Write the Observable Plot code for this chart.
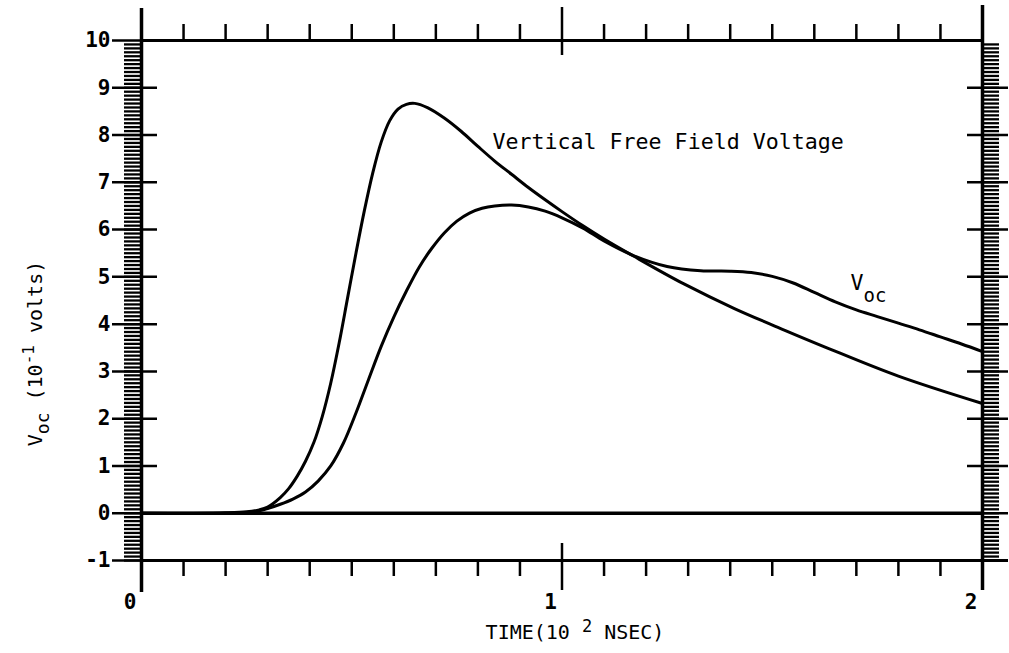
<!DOCTYPE html>
<html><head><meta charset="utf-8">
<script src="https://cdn.jsdelivr.net/npm/d3@7"></script>
<script src="https://cdn.jsdelivr.net/npm/@observablehq/plot@0.6"></script>
<style>html,body{margin:0;padding:0;background:#fff;} svg{display:block}</style>
</head><body><div id="chart"></div>
<script>
// Vertical Free Field Voltage (time in 10^2 ns, voltage in 10^-1 V)
const vffTime = [0, 0.1, 0.2, 0.25, 0.28, 0.30, 0.33, 0.35, 0.37, 0.39, 0.41, 0.43, 0.45, 0.47, 0.49, 0.51, 0.53, 0.55, 0.57, 0.59, 0.61, 0.63, 0.65, 0.68, 0.72, 0.76, 0.80, 0.84, 0.88, 0.92, 0.96, 1.00, 1.05, 1.10, 1.17, 1.29, 1.41, 1.53, 1.63, 1.80, 2.00];
const vffVolt = [0, 0, 0.01, 0.03, 0.07, 0.13, 0.33, 0.52, 0.78, 1.1, 1.5, 2.05, 2.75, 3.6, 4.55, 5.5, 6.4, 7.2, 7.85, 8.3, 8.55, 8.65, 8.67, 8.58, 8.36, 8.08, 7.76, 7.45, 7.17, 6.89, 6.63, 6.38, 6.08, 5.8, 5.44, 4.85, 4.33, 3.87, 3.5, 2.9, 2.32];
// V_oc
const vocTime = [0, 0.2, 0.27, 0.30, 0.33, 0.36, 0.39, 0.42, 0.45, 0.48, 0.51, 0.54, 0.57, 0.60, 0.63, 0.66, 0.69, 0.72, 0.75, 0.78, 0.81, 0.84, 0.88, 0.92, 0.96, 1.00, 1.05, 1.10, 1.17, 1.25, 1.33, 1.40, 1.45, 1.50, 1.55, 1.60, 1.65, 1.70, 1.75, 1.80, 1.85, 1.90, 1.95, 2.00];
const vocVolt = [0, 0, 0.03, 0.1, 0.19, 0.3, 0.45, 0.68, 1.0, 1.48, 2.12, 2.83, 3.53, 4.15, 4.7, 5.2, 5.6, 5.93, 6.18, 6.35, 6.45, 6.5, 6.52, 6.48, 6.39, 6.25, 6.03, 5.76, 5.45, 5.22, 5.13, 5.12, 5.09, 5.01, 4.87, 4.67, 4.47, 4.3, 4.16, 4.02, 3.88, 3.73, 3.58, 3.42];

const xMajor = [0, 1, 2];
const xTickLabels = ["0", "1", "2"];
const xMinor = [0.1, 0.2, 0.3, 0.4, 0.5, 0.6, 0.7, 0.8, 0.9, 1.1, 1.2, 1.3, 1.4, 1.5, 1.6, 1.7, 1.8, 1.9];
const yTicks = [-1, 0, 1, 2, 3, 4, 5, 6, 7, 8, 9, 10];
const yTickLabels = ["-1", "0", "1", "2", "3", "4", "5", "6", "7", "8", "9", "10"];
const yHatch = d3.range(0, 133).map(i => -1 + i / 12).filter(v => v < 9.99);

const xTitle = "TIME(10 2 NSEC)";
const yTitle = "Voc (10-1 volts)";
const annotations = [
  {t: 0.835, v: 7.85, label: "Vertical Free Field Voltage"},
  {t: 1.686, v: 4.86, label: "Voc"}
];

const vff = vffTime.map((t, i) => ({t, v: vffVolt[i]}));
const voc = vocTime.map((t, i) => ({t, v: vocVolt[i]}));

const FONT = "DejaVu Sans Mono";
const rightTicks = yTicks.filter(d => d < 10);

const svg = Plot.plot({
  width: 1009, height: 653,
  marginLeft: 141, marginRight: 27, marginTop: 40, marginBottom: 93,
  x: {domain: [0, 2], axis: null},
  y: {domain: [-1, 10], axis: null},
  style: {fontFamily: FONT, background: "#fff", color: "#000"},
  marks: [
    // hatching on both vertical axes
    Plot.ruleY(yHatch, {y: d => d, x1: 0, x2: 0, insetLeft: -17, stroke: "#000", strokeWidth: 2.3}),
    Plot.ruleY(yHatch, {y: d => d, x1: 2, x2: 2, insetRight: -17, stroke: "#000", strokeWidth: 2.3}),
    // y ticks
    Plot.ruleY(yTicks, {y: d => d, x1: 0, x2: 0, insetLeft: -29, insetRight: -16, stroke: "#000", strokeWidth: 2.5}),
    Plot.ruleY(rightTicks, {y: d => d, x1: 2, x2: 2, insetLeft: -15, insetRight: -26, stroke: "#000", strokeWidth: 2.5}),
    // frame top / bottom, zero line
    Plot.ruleY([10], {y: d => d, x1: 0, x2: 2, stroke: "#000", strokeWidth: 3}),
    Plot.ruleY([-1], {y: d => d, x1: 0, x2: 2, insetRight: -26, stroke: "#000", strokeWidth: 3}),
    Plot.ruleY([0], {y: d => d, x1: 0, x2: 2, stroke: "#000", strokeWidth: 3.5}),
    // x minor ticks
    Plot.ruleX(xMinor, {x: d => d, y1: -1, y2: -1, insetBottom: -16, stroke: "#000", strokeWidth: 2.5}),
    Plot.ruleX(xMinor, {x: d => d, y1: 10, y2: 10, insetTop: -16, stroke: "#000", strokeWidth: 2.5}),
    // vertical axes and major ticks
    Plot.ruleX([0], {x: d => d, insetTop: -32, insetBottom: -32, stroke: "#000", strokeWidth: 3.5}),
    Plot.ruleX([2], {x: d => d, insetTop: -35, insetBottom: -30, stroke: "#000", strokeWidth: 3.5}),
    Plot.ruleX([1], {x: d => d, y1: 10, y2: 10, insetTop: -33, insetBottom: -15, stroke: "#000", strokeWidth: 2.5}),
    Plot.ruleX([1], {x: d => d, y1: -1, y2: -1, insetTop: -17, insetBottom: -30, stroke: "#000", strokeWidth: 2.5}),
    // curves
    Plot.line(vff, {x: "t", y: "v", curve: "catmull-rom", stroke: "#000", strokeWidth: 3}),
    Plot.line(voc, {x: "t", y: "v", curve: "catmull-rom", stroke: "#000", strokeWidth: 3}),
    // tick labels
    Plot.text(yTicks, {x: 0, y: d => d, text: (d, i) => yTickLabels[i], textAnchor: "end", dx: -31, fontSize: 21, fontWeight: "bold", fontFamily: FONT, fill: "#000"}),
    Plot.text(xMajor, {x: d => d, y: -1, text: (d, i) => xTickLabels[i], textAnchor: "end", dx: -5, dy: 42, fontSize: 21, fontWeight: "bold", fontFamily: FONT, fill: "#000"}),
    // axis titles
    Plot.text([xTitle], {frameAnchor: "bottom", text: d => d, textAnchor: "middle", lineAnchor: "middle", dx: 13, dy: 72, fontSize: 20, fontFamily: FONT, fill: "#000"}),
    Plot.text([yTitle], {frameAnchor: "left", text: d => d, textAnchor: "middle", lineAnchor: "middle", rotate: -90, dx: -106, dy: 53, fontSize: 20, fontFamily: FONT, fill: "#000"}),
    // annotations
    Plot.text(annotations, {x: "t", y: "v", text: "label", textAnchor: "start", fontSize: 21.6, fontFamily: FONT, fill: "#000"})
  ]
});

// rich text: subscripts and superscripts
d3.select(svg).selectAll("text").each(function() {
  const el = d3.select(this);
  const t = this.textContent;
  if (t === xTitle) {
    el.text(null);
    el.append("tspan").text("TIME(10 ");
    el.append("tspan").attr("dy", -7).attr("font-size", 17).text("2");
    el.append("tspan").attr("dy", 7).text(" NSEC)");
  } else if (t === yTitle) {
    el.text(null);
    el.append("tspan").text("V");
    el.append("tspan").attr("dy", 7).attr("font-size", 18).text("oc");
    el.append("tspan").attr("dy", -7).text(" (10");
    el.append("tspan").attr("dy", -8).attr("font-size", 16).text("-1");
    el.append("tspan").attr("dy", 8).text(" volts)");
  } else if (t === "Voc") {
    el.text(null);
    el.append("tspan").text("V");
    el.append("tspan").attr("dy", 12).attr("font-size", 19).text("oc");
  }
});

document.getElementById("chart").appendChild(svg);
</script>
</body></html>
